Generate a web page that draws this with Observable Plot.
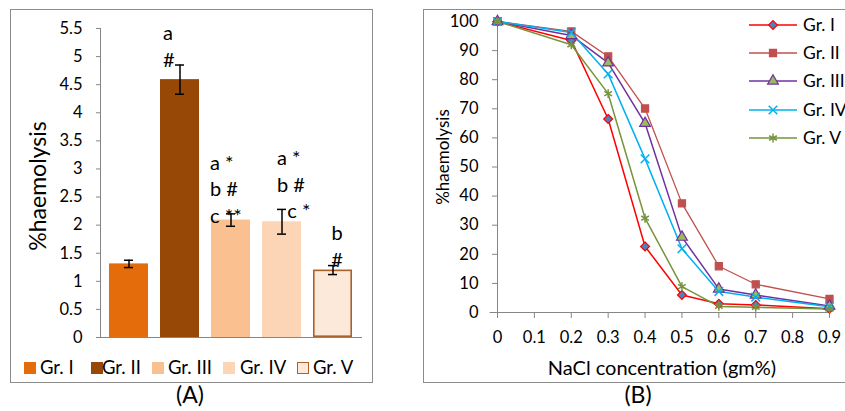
<!DOCTYPE html>
<html>
<head>
<meta charset="utf-8">
<script src="https://cdn.jsdelivr.net/npm/d3@7"></script>
<script src="https://cdn.jsdelivr.net/npm/@observablehq/plot@0.6"></script>
<style>
  html, body { margin: 0; padding: 0; background: #fff; }
  body { width: 845px; height: 411px; position: relative; overflow: hidden; font-family: Lato, "Open Sans", sans-serif; color: #000; }
  .abs { position: absolute; }
  .frame { position: absolute; border: 1px solid #8c8c8c; box-sizing: border-box; }
  .ctr { position: absolute; transform: translate(-50%, -50%); white-space: nowrap; }
  .rot { position: absolute; transform: translate(-50%, -50%) rotate(-90deg); white-space: nowrap; }
  .lg { position: absolute; white-space: nowrap; }
</style>
</head>
<body>
<div id="root"></div>
<script>
// ---------- Data: panel A ----------
const groups = ["Gr. I", "Gr. II", "Gr. III", "Gr. IV", "Gr. V"];
const meanA = [1.31, 4.59, 2.09, 2.06, 1.20];
const errA = [0.065, 0.26, 0.11, 0.22, 0.08];
const annotA = ["", "a\n#", "a *\nb #\nc **", "a *\nb #\n  c *", "b\n#"];
const yTicksA = [0, 0.5, 1, 1.5, 2, 2.5, 3, 3.5, 4, 4.5, 5, 5.5];

// ---------- Data: panel B ----------
const nacl = [0, 0.2, 0.3, 0.4, 0.5, 0.6, 0.7, 0.9];
const grI   = [100, 93.5, 66.5, 22.7, 6.0, 3.0, 2.6, 1.3];
const grII  = [100, 96.6, 88.0, 70.1, 37.5, 15.9, 9.7, 4.7];
const grIII = [100, 95.2, 85.8, 65.0, 25.9, 8.1, 6.0, 2.2];
const grIV  = [100, 96.2, 82.0, 52.8, 21.9, 7.2, 5.3, 2.0];
const grV   = [100, 92.0, 75.2, 32.4, 8.9, 2.1, 1.8, 1.2];
const xTicksB = [0, 0.1, 0.2, 0.3, 0.4, 0.5, 0.6, 0.7, 0.8, 0.9];
const yTicksB = [0, 10, 20, 30, 40, 50, 60, 70, 80, 90, 100];

// ---------- Styles ----------
const barColors = ["#E46C0A", "#974806", "#FAC090", "#FBD5B5", "#FDE9D9"];
const barVStroke = "#A9622A";
const axisGray = "#868686";
const plotStyle = "font-family: Lato, sans-serif; font-size: 16.5px; color: #000; background: transparent; overflow: visible;";
const lineStyles = [
  {symbol: "diamond2", line: "#FF0000", fill: "#4F81BD", stroke: "#FF0000", r: 4, sym: d3.symbolDiamond2},
  {symbol: "square", line: "#C0504D", fill: "#C0504D", stroke: "#C0504D", r: 4, sym: d3.symbolSquare},
  {symbol: "triangle", line: "#7030A0", fill: "#9BBB59", stroke: "#7030A0", r: 4, sym: d3.symbolTriangle},
  {symbol: "times", line: "#00B0F0", fill: "none", stroke: "#00B0F0", r: 4, sym: d3.symbolTimes},
  {symbol: "asterisk", line: "#77933C", fill: "none", stroke: "#77933C", r: 4.2, sym: d3.symbolAsterisk}
];

const root = document.getElementById("root");
function addDiv(cls, css, html) {
  const d = document.createElement("div");
  d.className = cls;
  Object.assign(d.style, css);
  if (html != null) d.innerHTML = html;
  root.appendChild(d);
  return d;
}

// frames
addDiv("frame", {left: "10px", top: "9px", width: "363px", height: "374px"});
addDiv("frame", {left: "423px", top: "9px", width: "440px", height: "374px"});

// ---------- Panel A ----------
const dataA = groups.map((g, i) => ({group: g, mean: meanA[i], err: errA[i], lo: meanA[i] - errA[i], hi: meanA[i] + errA[i], note: annotA[i]}));
const noteOffsets = {"Gr. II": {dx: -17, dy: 2, anchor: "start"}, "Gr. III": {dx: -21, dy: 9, anchor: "start"}, "Gr. IV": {dx: -5, dy: 9, anchor: "start"}, "Gr. V": {dx: 4, dy: 1, anchor: "middle"}};

const noteMarks = Object.entries(noteOffsets).map(([g, o]) =>
  Plot.text(dataA.filter(d => d.group === g), {
    x: "group", y: "hi", text: "note", textAnchor: o.anchor, lineAnchor: "bottom",
    lineHeight: 1.33, dx: o.dx, dy: o.dy, fontSize: 20, fill: "#000"
  })
);

const plotA = Plot.plot({
  width: 372, height: 345,
  marginLeft: 100, marginRight: 10, marginTop: 28, marginBottom: 8,
  style: plotStyle,
  x: {domain: groups, paddingInner: 0.23, paddingOuter: 0.135, axis: null},
  y: {domain: [0, 5.5]},
  color: {domain: groups, range: barColors},
  marks: [
    Plot.barY(dataA, {x: "group", y: "mean", fill: "group"}),
    Plot.barY(dataA.filter(d => d.group === "Gr. V"), {x: "group", y: "mean", fill: "none", stroke: barVStroke, strokeWidth: 1.6, inset: 0.8}),
    Plot.axisY({ticks: yTicksA, tickSize: 4, tickPadding: 14, stroke: axisGray, fill: "#000", label: null, fontSize: 16.5, tickFormat: d => String(d)}),
    Plot.frame({anchor: "left", stroke: axisGray}),
    Plot.ruleY([0], {stroke: axisGray}),
    Plot.ruleX(dataA, {x: "group", y1: "lo", y2: "hi", stroke: "#000", strokeWidth: 1.5}),
    Plot.tickY(dataA, {x: "group", y: "lo", stroke: "#000", strokeWidth: 1.5, insetLeft: 15, insetRight: 15}),
    Plot.tickY(dataA, {x: "group", y: "hi", stroke: "#000", strokeWidth: 1.5, insetLeft: 15, insetRight: 15}),
    ...noteMarks
  ]
});
plotA.style.position = "absolute";
plotA.style.left = "0px";
plotA.style.top = "0px";
root.appendChild(plotA);

addDiv("rot", {left: "37px", top: "186px", fontSize: "23px"}, "%haemolysis");
addDiv("ctr", {left: "190px", top: "394px", fontSize: "23px"}, "(A)");

// legend A
const swLeft = [24, 91, 152, 223, 297];
const txLeft = [40, 102, 168, 240, 313];
groups.forEach((g, i) => {
  const isV = i === 4;
  addDiv("abs", {
    left: swLeft[i] + "px", top: "362px", width: "12px", height: "12px", boxSizing: "border-box",
    background: barColors[i], border: isV ? `1.5px solid ${barVStroke}` : "none"
  });
  addDiv("lg", {left: txLeft[i] + "px", top: "358px", fontSize: "18.5px", lineHeight: "19px"}, g);
});

// ---------- Panel B ----------
const seriesB = [grI, grII, grIII, grIV, grV];
const rowsB = [];
groups.forEach((g, gi) => nacl.forEach((x, i) => rowsB.push({group: g, nacl: x, pct: seriesB[gi][i]})));

const lineMarks = [];
const dotMarks = [];
groups.forEach((g, gi) => {
  const s = lineStyles[gi];
  const rows = rowsB.filter(d => d.group === g);
  lineMarks.push(Plot.line(rows, {x: "nacl", y: "pct", stroke: s.line, strokeWidth: gi === 1 ? 1.3 : 1.5}));
  dotMarks.push(Plot.dot(rows, {x: "nacl", y: "pct", symbol: () => s.symbol, r: s.r, fill: s.fill, stroke: s.stroke, strokeWidth: s.fill === "none" ? 1.5 : 1.2}));
});

const plotB = Plot.plot({
  width: 422, height: 360,
  marginLeft: 74, marginRight: 16, marginTop: 21, marginBottom: 48,
  style: plotStyle,
  x: {domain: [0, 0.9]},
  y: {domain: [0, 100]},
  symbol: {type: "identity"},
  marks: [
    Plot.axisY({ticks: yTicksB, tickSize: 5, tickPadding: 14, stroke: axisGray, fill: "#000", label: null, fontSize: 16.5}),
    Plot.axisX({ticks: xTicksB, tickSize: 6, tickPadding: 13, stroke: axisGray, fill: "#000", label: null, fontSize: 16.5, tickFormat: d => String(+d.toFixed(1))}),
    Plot.ruleX([0], {stroke: axisGray}),
    Plot.ruleY([0], {stroke: axisGray, x1: -0.02, x2: 0.9}),
    ...lineMarks,
    ...dotMarks
  ]
});
plotB.style.position = "absolute";
plotB.style.left = "423px";
plotB.style.top = "0px";
root.appendChild(plotB);

addDiv("rot", {left: "442px", top: "157px", fontSize: "17px"}, "%haemolysis");
addDiv("ctr", {left: "662px", top: "367px", fontSize: "20px"}, "NaCl concentration (gm%)");
addDiv("ctr", {left: "638px", top: "394px", fontSize: "23px"}, "(B)");

// legend B
const legY = [25, 53, 81, 110, 138];
groups.forEach((g, gi) => {
  const s = lineStyles[gi];
  const path = d3.symbol(s.sym, Math.PI * s.r * s.r)();
  const sw = s.fill === "none" ? 1.5 : 1.2;
  addDiv("abs", {left: "749px", top: (legY[gi] - 8) + "px", width: "48px", height: "16px"},
    `<svg width="48" height="16" style="display:block;overflow:visible">
       <line x1="0" x2="48" y1="8" y2="8" stroke="${s.line}" stroke-width="1.5"/>
       <path d="${path}" transform="translate(24,8)" fill="${s.fill}" stroke="${s.stroke}" stroke-width="${sw}"/>
     </svg>`);
  addDiv("lg", {left: "803px", top: (legY[gi] - 10) + "px", fontSize: "17.5px", lineHeight: "20px"}, g);
});
</script>
</body>
</html>
